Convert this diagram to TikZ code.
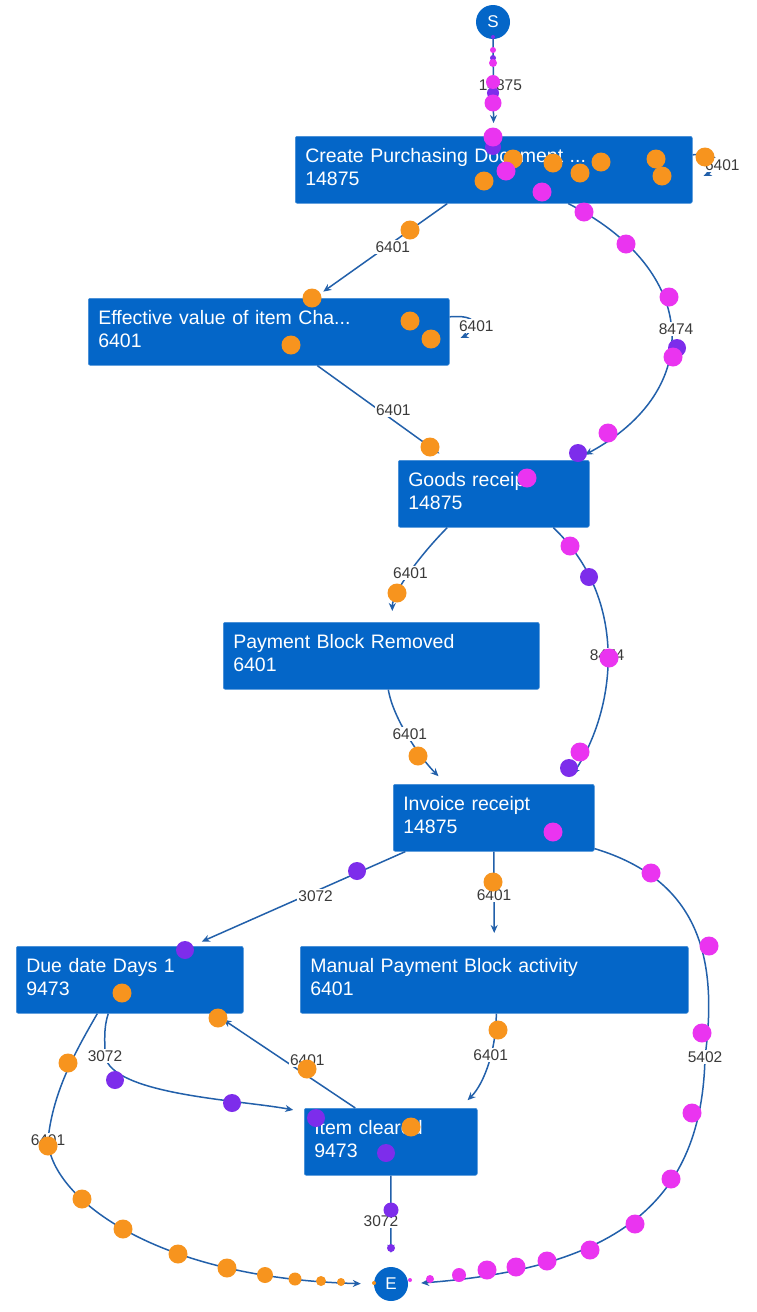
\documentclass[tikz,border=0pt]{standalone}
\usepackage{fontspec}
\setmainfont{Liberation Sans}
\usetikzlibrary{arrows.meta}

\definecolor{boxblue}{RGB}{4,102,200}
\definecolor{flowblue}{RGB}{34,96,170}
\definecolor{tokorange}{RGB}{247,148,30}
\definecolor{tokpink}{RGB}{234,52,240}
\definecolor{tokviolet}{RGB}{125,45,235}
\definecolor{lbltext}{RGB}{58,58,58}

\begin{document}
\begin{tikzpicture}[x=1pt,y=-1pt,
    act/.style={fill=boxblue,draw=boxblue!75!white,line width=0.6pt,rounded corners=2pt,
        text=white,anchor=north west,align=left,inner xsep=10pt,minimum height=67pt,
        text depth=28pt,font=\fontsize{19.5}{23}\selectfont},
    endpt/.style={circle,fill=boxblue,text=white,minimum size=34pt,inner sep=0pt,
        font=\fontsize{17}{17}\selectfont},
    flow/.style={draw=flowblue,line width=1.5pt,-{Stealth[length=8pt,width=7pt]},shorten >=11pt},
    lbl/.style={fill=white,text=lbltext,inner sep=1.5pt,font=\fontsize{15.5}{16}\selectfont}]
    \path[fill=white] (0,0) rectangle (756,1312);

    % activities
    \node[endpt] (s) at (493,22) {S};
    \node[act,text width=377pt] (create) at (295,136) {Create Purchasing Document ...\\14875};
    \node[act,text width=341pt] (eff) at (88,298) {Effective value of item Cha...\\6401};
    \node[act,text width=171pt] (goods) at (398,460) {Goods receipt\\14875};
    \node[act,text width=296pt] (pbr) at (223,622) {Payment Block Removed\\6401};
    \node[act,text width=181pt] (inv) at (393,784) {Invoice receipt\\14875};
    \node[act,text width=207pt] (due) at (16,946) {Due date Days 1\\9473};
    \node[act,text width=368pt] (manual) at (300,946) {Manual Payment Block activity\\6401};
    \node[act,text width=153pt] (item) at (304,1108) {Item cleared\\9473};
    \node[endpt] (e) at (391,1284) {E};

    % flows
    \draw[flow,shorten >=13pt] (s) -- node[lbl,pos=.47,xshift=7pt] {14875} (create);
    \draw[flow,shorten >=12pt] ([yshift=15pt]create.east) .. controls +(40,-3) and +(18,-8) ..
        node[lbl,xshift=8pt,yshift=-1pt] {6401} ([yshift=-11pt]create.east);
    \draw[flow] ([xshift=-46.5pt]create.south) -- node[lbl,pos=.41,yshift=-5pt] {6401} ([xshift=45.5pt]eff.north);
    \draw[flow,shorten >=12pt] ([yshift=15pt]eff.east) .. controls +(40,-3) and +(18,-8) ..
        node[lbl,xshift=5pt] {6401} ([yshift=-11pt]eff.east);
    \draw[flow] ([xshift=48.5pt]eff.south) -- node[lbl,pos=.58,yshift=10pt] {6401} ([xshift=-45.5pt]goods.north);
    \draw[flow] ([xshift=74.5pt]create.south) .. controls +(132,67) and +(130,-70) ..
        node[lbl,xshift=6pt,yshift=2pt] {8474} ([xshift=81.5pt]goods.north);
    \draw[flow] ([xshift=-46.5pt]goods.south) .. controls +(-25,25) and +(0,-30) ..
        node[lbl] {6401} ([xshift=11pt]pbr.north);
    \draw[flow] ([xshift=59.5pt]goods.south) .. controls +(77,73) and +(49,-74) ..
        node[lbl] {8474} ([xshift=72.5pt]inv.north);
    \draw[flow] ([xshift=7pt]pbr.south) .. controls +(5,30) and +(-25,-25) ..
        node[lbl,yshift=5pt] {6401} ([xshift=-47.5pt]inv.north);
    \draw[flow] ([xshift=-88.5pt]inv.south) -- node[lbl,pos=.42,yshift=-5pt] {3072} ([xshift=62pt]due.north);
    \draw[flow,shorten >=13pt] (inv.south) -- node[lbl,pos=.46] {6401} (manual.north);
    \draw[flow,shorten >=13pt] ([yshift=3pt]inv.south east) .. controls +(106,32) and +(13,-97) ..
        (705,1057) node[lbl] {5402} .. controls +(-3,143) and +(212,-16) .. (e.east);
    \draw[flow,shorten >=13pt] ([xshift=-32.5pt]due.south) .. controls +(-20,35) and +(5,-50) ..
        (48,1140) node[lbl] {6401} .. controls +(2,55) and +(-224,-6) .. (e.west);
    \draw[flow] ([xshift=-21.5pt]due.south) .. controls +(-5,15) and +(0,-15) ..
        (105,1056) node[lbl] {3072} .. controls +(7,39) and +(-63,-12) .. ([yshift=-4pt]item.north west);
    \draw[flow] ([xshift=-35.5pt]item.north) -- node[lbl,pos=.34,yshift=16pt] {6401} ([xshift=84.5pt]due.south);
    \draw[flow] ([xshift=2pt]manual.south) .. controls +(0,35) and +(25,-25) ..
        node[lbl,pos=.4] {6401} ([xshift=69pt]item.north);
    \draw[flow,shorten >=14pt] (item.south) -- node[lbl,xshift=-10pt] {3072} (e.north);

    % tokens
    \foreach \px/\py/\pr in {484/181/9.5,513/159/9.5,553/163/9.5,580/173/9.5,601/162/9.5,
        656/159/9.5,662/176/9.5,705/157/9.5,410/230/9.5,312/298/9.5,410/321/9.5,431/339/9.5,
        291/345/9.5,430/447/9.5,397/593/9.5,418/756/9.5,493/882/9.5,122/993/9.5,218/1018/9.5,
        68/1063/9.5,307/1069/9.5,48/1146/9.5,82/1199/9.5,123/1229/9.5,178/1254/9.5,
        227/1268/9.5,265/1275/8,295/1279/6.5,321/1281/5,341/1282/4,374/1283/2,498/1030/9.5,411/1127/9.5}
        \fill[tokorange] (\px,\py) circle[radius=\pr pt];
    \foreach \px/\py/\pr in {493/37/2,493/58/3,493/93/6,493/147/8,677/348/9,578/453/9,
        589/577/9,569/768/9,357/871/9,185/950/9,115/1080/9,232/1103/9,316/1118/9,
        386/1153/9,391/1210/7.5,391/1248/4}
        \fill[tokviolet] (\px,\py) circle[radius=\pr pt];
    \foreach \px/\py/\pr in {493/50/3,493/63/4,493/82/7,493/103/8.5,493/137/9.5,506/171/9.5,
        542/192/9.5,584/212/9.5,626/244/9.5,669/297/9.5,673/357/9.5,608/433/9.5,527/478/9.5,
        570/546/9.5,609/658/9.5,580/752/9.5,553/832/9.5,651/873/9.5,709/946/9.5,702/1033/9.5,
        692/1113/9.5,671/1179/9.5,635/1224/9.5,590/1250/9.5,547/1261/9.5,516/1267/9.5,
        487/1270/9.5,459/1275/7,430/1279/4,410/1280/2}
        \fill[tokpink] (\px,\py) circle[radius=\pr pt];
\end{tikzpicture}
\end{document}
